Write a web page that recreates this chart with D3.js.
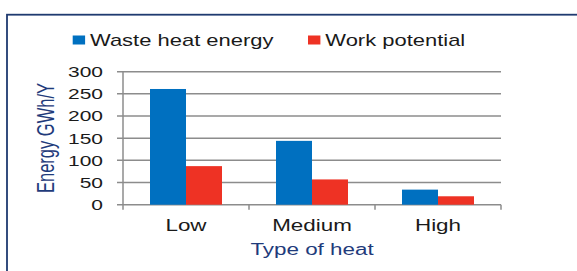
<!DOCTYPE html>
<html>
<head>
  <meta charset="utf-8">
  <title>Waste heat</title>
  <script src="https://cdn.jsdelivr.net/npm/d3@7"></script>
  <style>
    body { margin: 0; background: #fff; }
    svg text { font-family: "Liberation Sans", Arial, sans-serif; }
    .grid line { stroke: #8c8c8c; stroke-width: 1.5; }
  </style>
</head>
<body>
  <div id="chart"></div>
  <script>
    // data
    const categories = ['Low', 'Medium', 'High']
    const seriesNames = ['Waste heat energy', 'Work potential']
    const wasteHeat = [261, 144, 34]
    const workPotential = [87, 57, 19]
    const yTicks = [0, 50, 100, 150, 200, 250, 300]

    const colors = ['#0070C0', '#EE3224']
    const stretch = 1.4 // the picture is wider than normal glyphs

    const width = 577, height = 271
    const plot = { left: 123, right: 501, top: 71.7, bottom: 204.7 }

    const svg = d3.select('#chart').append('svg')
      .attr('width', width).attr('height', height)

    // outer frame
    svg.append('rect')
      .attr('x', 7).attr('y', 14.7)
      .attr('width', 600).attr('height', 300)
      .attr('fill', 'none').attr('stroke', '#1F3A70').attr('stroke-width', 1.8)

    const x0 = d3.scaleBand().domain(categories).range([plot.left, plot.right]).paddingInner(0).paddingOuter(0)
    const x1 = d3.scaleBand().domain(seriesNames).range([0, x0.bandwidth()]).paddingOuter(0.75).paddingInner(0)
    const y = d3.scaleLinear().domain([0, 300]).range([plot.bottom, plot.top])

    // gridlines
    svg.append('g').attr('class', 'grid')
      .selectAll('line').data(yTicks).enter().append('line')
      .attr('x1', plot.left - 6).attr('x2', plot.right)
      .attr('y1', d => y(d)).attr('y2', d => y(d))

    // y axis line
    svg.append('line')
      .attr('x1', plot.left).attr('x2', plot.left)
      .attr('y1', plot.top).attr('y2', plot.bottom)
      .attr('stroke', '#8c8c8c').attr('stroke-width', 1.5)

    // x axis ticks at category boundaries
    const bounds = categories.map(c => x0(c)).concat([plot.right])
    svg.append('g').selectAll('line').data(bounds).enter().append('line')
      .attr('x1', d => d).attr('x2', d => d)
      .attr('y1', plot.bottom).attr('y2', plot.bottom + 5)
      .attr('stroke', '#8c8c8c').attr('stroke-width', 1.5)

    // y tick labels
    svg.append('g').selectAll('text').data(yTicks).enter().append('text')
      .attr('transform', d => `translate(103,${y(d) + 5.3}) scale(${stretch},1)`)
      .attr('text-anchor', 'end')
      .attr('font-size', 15)
      .attr('fill', '#1a1a1a')
      .text(d => d)

    // bars
    const rows = categories.map((c, i) => ({ cat: c, values: [wasteHeat[i], workPotential[i]] }))
    const groups = svg.append('g').selectAll('g').data(rows).enter().append('g')
      .attr('transform', d => `translate(${x0(d.cat)},0)`)
    groups.selectAll('rect')
      .data(d => d.values.map((v, j) => ({ name: seriesNames[j], v: v, j: j })))
      .enter().append('rect')
      .attr('x', d => x1(d.name))
      .attr('width', x1.bandwidth())
      .attr('y', d => y(d.v))
      .attr('height', d => y(0) - y(d.v))
      .attr('fill', d => colors[d.j])

    // x tick labels
    svg.append('g').selectAll('text').data(categories).enter().append('text')
      .attr('transform', d => `translate(${x0(d) + x0.bandwidth() / 2},231) scale(${stretch},1)`)
      .attr('text-anchor', 'middle')
      .attr('font-size', 16)
      .attr('fill', '#1a1a1a')
      .text(d => d)

    // axis titles
    svg.append('text')
      .attr('transform', `translate(312,255) scale(${stretch},1)`)
      .attr('text-anchor', 'middle')
      .attr('font-size', 16)
      .attr('fill', '#1F3B7B')
      .text('Type of heat')

    svg.append('text')
      .attr('transform', `translate(54,138) scale(${stretch},1) rotate(-90)`)
      .attr('text-anchor', 'middle')
      .attr('font-size', 16.5)
      .attr('fill', '#1F3B7B')
      .text('Energy GWh/Y')

    // legend
    const legendX = [72.7, 308]
    const legend = svg.append('g').selectAll('g').data(seriesNames).enter().append('g')
      .attr('transform', (d, i) => `translate(${legendX[i]},0)`)
    legend.append('rect')
      .attr('x', 0).attr('y', 35.5)
      .attr('width', 12.4).attr('height', 9)
      .attr('fill', (d, i) => colors[i])
    legend.append('text')
      .attr('transform', `translate(17.3,45.5) scale(${stretch},1)`)
      .attr('font-size', 15.7)
      .attr('fill', '#1a1a1a')
      .text(d => d)
  </script>
</body>
</html>
